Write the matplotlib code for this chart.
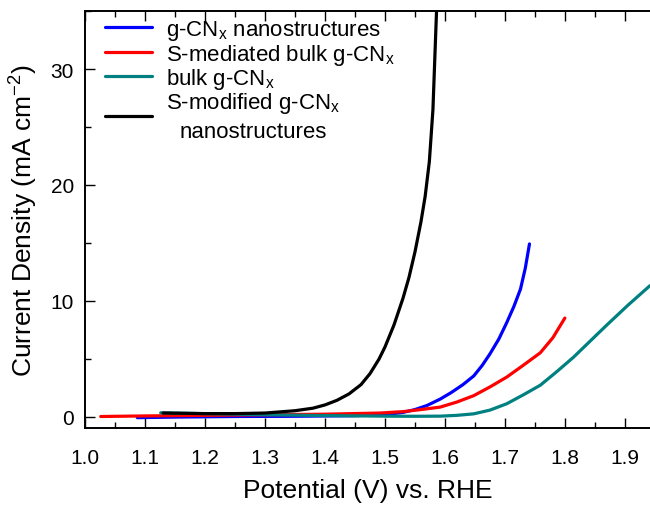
import matplotlib
matplotlib.use("Agg")
import matplotlib.pyplot as plt
from matplotlib.ticker import MultipleLocator, FormatStrFormatter

plt.rcParams['font.family'] = ['Liberation Sans', 'DejaVu Sans']
plt.rcParams['mathtext.fontset'] = 'custom'
plt.rcParams['mathtext.rm'] = 'Liberation Sans'
plt.rcParams['mathtext.it'] = 'Liberation Sans:italic'

# LSV curves: potential (V vs RHE) and current density (mA cm-2)
v_nano = [1.087, 1.15, 1.25, 1.35, 1.45, 1.50, 1.53, 1.55, 1.57, 1.592, 1.61, 1.63, 1.648,
          1.662, 1.675, 1.69, 1.703, 1.715, 1.726, 1.734, 1.741]
j_nano = [-0.1, -0.05, 0.0, 0.02, 0.07, 0.17, 0.35, 0.6, 0.95, 1.5, 2.05, 2.75, 3.5,
          4.4, 5.4, 6.7, 8.1, 9.5, 11.0, 12.8, 14.9]

v_smed = [1.026, 1.10, 1.20, 1.30, 1.40, 1.492, 1.53, 1.56, 1.592, 1.62, 1.648, 1.675,
          1.703, 1.73, 1.759, 1.78, 1.80]
j_smed = [0.0, 0.05, 0.1, 0.15, 0.2, 0.3, 0.42, 0.6, 0.81, 1.25, 1.8, 2.55,
          3.4, 4.4, 5.5, 6.8, 8.5]

v_bulk = [1.126, 1.20, 1.30, 1.40, 1.50, 1.55, 1.592, 1.62, 1.648, 1.675, 1.703, 1.73,
          1.759, 1.786, 1.814, 1.842, 1.870, 1.905, 1.942]
j_bulk = [0.32, 0.25, 0.15, 0.08, 0.03, 0.02, 0.03, 0.1, 0.23, 0.55, 1.1, 1.85,
          2.7, 3.85, 5.1, 6.5, 7.9, 9.6, 11.3]

v_smod = [1.13, 1.20, 1.25, 1.30, 1.35, 1.38, 1.40, 1.42, 1.44, 1.46, 1.475, 1.49, 1.50,
          1.515, 1.53, 1.54, 1.55, 1.56, 1.567, 1.574, 1.58, 1.586]
j_smod = [0.3, 0.25, 0.25, 0.3, 0.5, 0.72, 1.0, 1.4, 1.95, 2.75, 3.7, 4.95, 6.0,
          7.9, 10.2, 12.0, 14.2, 16.8, 19.0, 22.0, 26.5, 35.0]

labels = ['g-CN$_\\mathregular{x}$ nanostructures',
          'S-mediated bulk g-CN$_\\mathregular{x}$',
          'bulk g-CN$_\\mathregular{x}$',
          'S-modified g-CN$_\\mathregular{x}$\nnanostructures']
colors = ['#0000ff', '#ff0000', '#008080', '#000000']

fig = plt.figure(figsize=(6.5, 5.06), dpi=100)
ax = fig.add_axes([0.131, 0.152, 0.869, 0.824])

series = [(v_nano, j_nano), (v_smed, j_smed), (v_bulk, j_bulk), (v_smod, j_smod)]
for (v, j), lab, col in zip(series, labels, colors):
    ax.plot(v, j, color=col, lw=2.3, label=lab, solid_capstyle='round')

ax.set_xlim(1.0, 1.942)
ax.set_ylim(-1.0, 35.0)

ax.xaxis.set_major_locator(MultipleLocator(0.1))
ax.xaxis.set_minor_locator(MultipleLocator(0.05))
ax.yaxis.set_major_locator(MultipleLocator(10))
ax.yaxis.set_minor_locator(MultipleLocator(5))
ax.xaxis.set_major_formatter(FormatStrFormatter('%.1f'))

ax.tick_params(which='both', direction='in', top=True, right=False, labelsize=15, width=1)
ax.tick_params(which='major', length=7)
ax.tick_params(which='minor', length=4)
ax.tick_params(axis='x', pad=14)
ax.tick_params(axis='y', pad=8)
ax.spines['right'].set_visible(False)
for s in ['left', 'bottom', 'top']:
    ax.spines[s].set_linewidth(1.4)

ax.set_xlabel('Potential (V) vs. RHE', fontsize=19, labelpad=8)
ax.set_ylabel('Current Density (mA cm$^{\\mathregular{-2}}$)', fontsize=19, labelpad=8)

leg = ax.legend(loc='upper left', bbox_to_anchor=(0.035, 0.983), frameon=False, fontsize=16,
                handlelength=2.1, handletextpad=0.65, labelspacing=-0.03,
                borderpad=0.0, borderaxespad=0.0)
for line in leg.get_lines():
    line.set_linewidth(2.3)
leg.get_texts()[3].set_multialignment('center')
leg.get_texts()[3].set_linespacing(1.35)

fig.savefig('out.png', dpi=100)
